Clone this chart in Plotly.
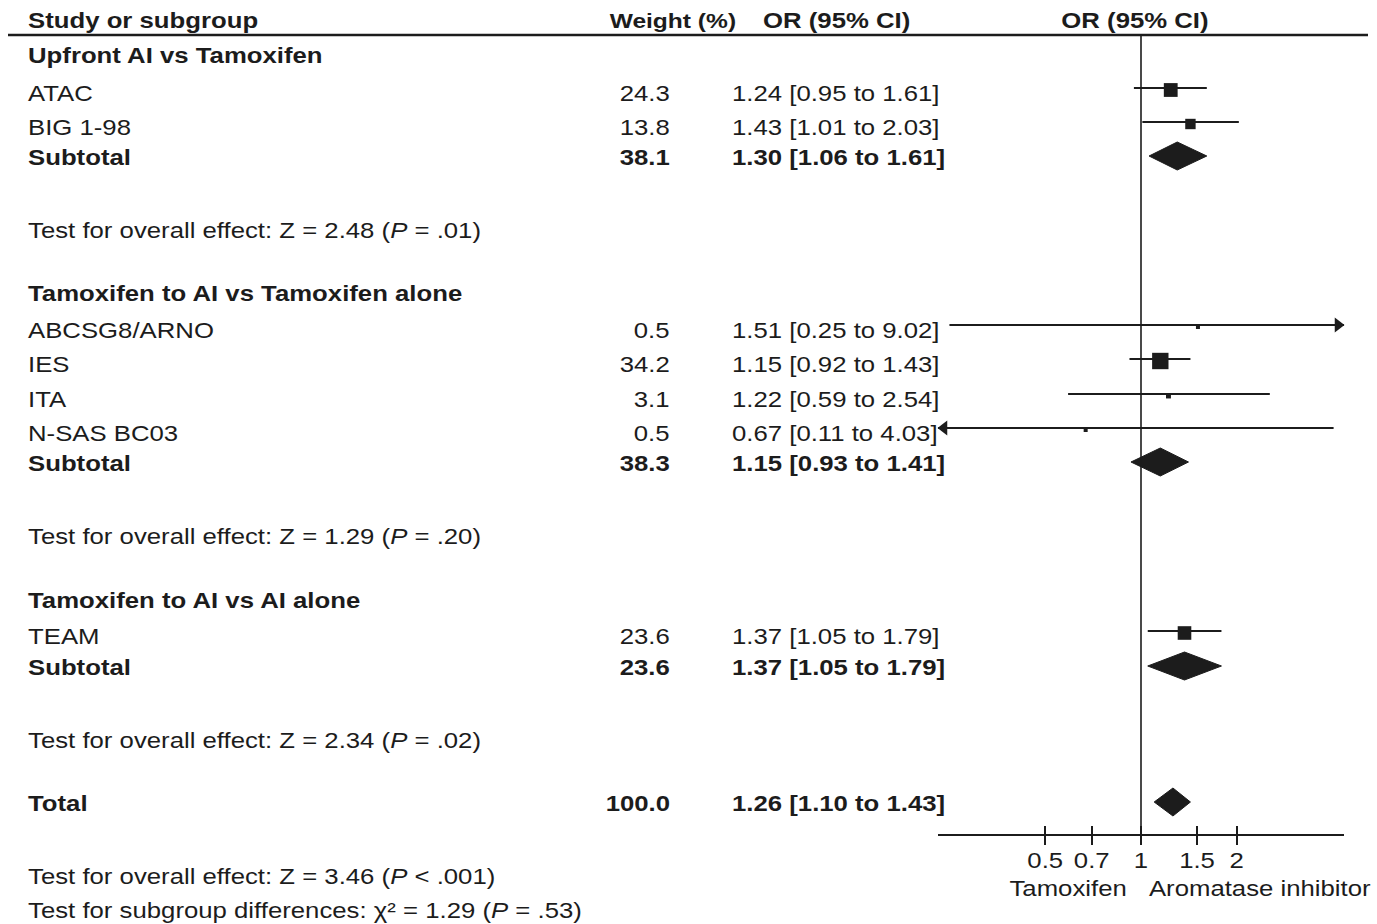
import math
import plotly.graph_objects as go

# ---- data -------------------------------------------------------------
studies = ["ATAC", "BIG 1-98", "ABCSG8/ARNO", "IES", "ITA", "N-SAS BC03", "TEAM"]
weights = [24.3, 13.8, 0.5, 34.2, 3.1, 0.5, 23.6]
or_est = [1.24, 1.43, 1.51, 1.15, 1.22, 0.67, 1.37]
ci_lo = [0.95, 1.01, 0.25, 0.92, 0.59, 0.11, 1.05]
ci_hi = [1.61, 2.03, 9.02, 1.43, 2.54, 4.03, 1.79]

groups = ["Upfront AI vs Tamoxifen", "Tamoxifen to AI vs Tamoxifen alone",
          "Tamoxifen to AI vs AI alone"]
sub_weight = [38.1, 38.3, 23.6]
sub_est = [1.30, 1.15, 1.37]
sub_lo = [1.06, 0.93, 1.05]
sub_hi = [1.61, 1.41, 1.79]
sub_z = [2.48, 1.29, 2.34]
sub_p = ["= .01", "= .20", "= .02"]

total_weight = 100.0
total_est = 1.26
total_lo = 1.10
total_hi = 1.43
total_z = 3.46
total_p = "< .001"
chi2 = 1.29
chi2_p = "= .53"

tick_vals = [0.5, 0.7, 1, 1.5, 2]
tick_text = ["0.5", "0.7", "1", "1.5", "2"]

# ---- layout positions (page pixels, y grows downwards) ---------------
W, H = 1377, 924
header_y = 20
rule_y = 35
group_head_y = [55, 293, 600]
study_y = [93, 127, 330, 364, 399, 433, 636]
subtotal_y = [157, 463, 667]
test_y = [230, 536, 740]
total_y = 803
footer_y = [876, 910]
axis_y = 835
mark_shift = -5          # CI bars sit slightly above the text centre
diamond_half = 14

col_name = 26
col_weight = 672
col_or = 730
x_dom = (938, 1344)
log_half = 0.638
x_min, x_max = 10 ** -log_half, 10 ** log_half
dec_per_px = 2 * log_half / (x_dom[1] - x_dom[0])
arrow_inset = 6

FONT = "Liberation Sans"
FS = 22
FS_WEIGHT_HEAD = 21
STRETCH = 1.17
INK = "#1c1c1c"


def px(x):
    return x / W


def fmt_ci(e, lo, hi):
    return f"{e:.2f} [{lo:.2f} to {hi:.2f}]"


fig = go.Figure()

# confidence-interval whiskers, clipped to the axis span
wx, wy = [], []
right_arrows, left_arrows = [], []
for lo, hi, y in zip(ci_lo, ci_hi, study_y):
    ym = y + mark_shift
    wx += [max(lo, x_min), min(hi, x_max), None]
    wy += [ym, ym, None]
    if hi > x_max:
        right_arrows.append(ym)
    if lo < x_min:
        left_arrows.append(ym)
fig.add_trace(go.Scatter(x=wx, y=wy, mode="lines",
                         line=dict(color=INK, width=2), hoverinfo="skip"))

if right_arrows:
    fig.add_trace(go.Scatter(
        x=[x_max * 10 ** (-arrow_inset * dec_per_px)] * len(right_arrows),
        y=right_arrows, mode="markers", cliponaxis=False,
        marker=dict(symbol="triangle-right", size=13, color=INK, opacity=1)))
if left_arrows:
    fig.add_trace(go.Scatter(
        x=[x_min * 10 ** (arrow_inset * dec_per_px)] * len(left_arrows),
        y=left_arrows, mode="markers", cliponaxis=False,
        marker=dict(symbol="triangle-left", size=13, color=INK, opacity=1)))

# study point estimates, square area proportional to weight
fig.add_trace(go.Scatter(
    x=or_est, y=[y + mark_shift + 2 for y in study_y], mode="markers",
    marker=dict(symbol="square", color=INK, opacity=1,
                size=[max(4, 2.8 * math.sqrt(w)) for w in weights],
                line=dict(width=0)),
    hoverinfo="skip"))


# pooled estimates as diamonds
def diamond(lo, est, hi, y):
    fig.add_trace(go.Scatter(
        x=[lo, est, hi, est, lo], y=[y, y - diamond_half, y, y + diamond_half, y],
        mode="lines", fill="toself", fillcolor=INK,
        line=dict(color=INK, width=1), hoverinfo="skip"))


for lo, est, hi, y in zip(sub_lo, sub_est, sub_hi, subtotal_y):
    diamond(lo, est, hi, y - 1)
diamond(total_lo, total_est, total_hi, total_y - 1)

# line of no effect
fig.add_trace(go.Scatter(x=[1, 1], y=[rule_y, axis_y], mode="lines",
                         xaxis="x2", line=dict(color=INK, width=1.6),
                         hoverinfo="skip"))

# ---- text columns ----------------------------------------------------
ann = []


def text(x, y, s, bold=False, anchor="left", size=FS):
    ann.append(dict(x=px(x), y=y, xref="paper", yref="y",
                    text=f"<b>{s}</b>" if bold else s,
                    showarrow=False, xanchor=anchor, yanchor="middle",
                    font=dict(family=FONT, size=size, color=INK)))


text(col_name, header_y, "Study or subgroup", bold=True)
text(738, header_y, "Weight (%)", bold=True, anchor="right", size=FS_WEIGHT_HEAD)
text(761, header_y, "OR (95% CI)", bold=True)
text(1135, header_y, "OR (95% CI)", bold=True, anchor="center")

for g, name in enumerate(groups):
    text(col_name, group_head_y[g], name, bold=True)
    text(col_name, subtotal_y[g], "Subtotal", bold=True)
    text(col_weight, subtotal_y[g], f"{sub_weight[g]:.1f}", bold=True,
         anchor="right")
    text(col_or, subtotal_y[g], fmt_ci(sub_est[g], sub_lo[g], sub_hi[g]),
         bold=True)
    text(col_name, test_y[g],
         f"Test for overall effect: Z = {sub_z[g]:.2f} (<i>P</i> {sub_p[g]})")

for i, s in enumerate(studies):
    text(col_name, study_y[i], s)
    text(col_weight, study_y[i], f"{weights[i]:.1f}", anchor="right")
    text(col_or, study_y[i], fmt_ci(or_est[i], ci_lo[i], ci_hi[i]))

text(col_name, total_y, "Total", bold=True)
text(col_weight, total_y, f"{total_weight:.1f}", bold=True, anchor="right")
text(col_or, total_y, fmt_ci(total_est, total_lo, total_hi), bold=True)
text(col_name, footer_y[0],
     f"Test for overall effect: Z = {total_z:.2f} (<i>P</i> {total_p})")
text(col_name, footer_y[1],
     f"Test for subgroup differences: χ² = {chi2:.2f} (<i>P</i> {chi2_p})")

text(1068, 888, "Tamoxifen", anchor="center")
text(1260, 888, "Aromatase inhibitor", anchor="center")

axis_common = dict(type="log", range=[-log_half, log_half],
                   domain=[px(x_dom[0]), px(x_dom[1])],
                   anchor="free", position=1 - axis_y / H,
                   showgrid=False, zeroline=False,
                   tickvals=tick_vals, ticktext=tick_text,
                   tickwidth=2, tickcolor=INK, ticklen=9)

fig.update_layout(
    width=W, height=H, margin=dict(l=0, r=0, t=0, b=0),
    paper_bgcolor="white", plot_bgcolor="white", showlegend=False,
    xaxis=dict(**axis_common, showline=True, linecolor=INK, linewidth=2,
               ticks="outside", ticklabelstandoff=-3,
               tickfont=dict(family=FONT, size=FS, color=INK)),
    xaxis2=dict(**axis_common, overlaying="x", matches="x", ticks="inside",
                showticklabels=False, showline=False),
    yaxis=dict(range=[H, 0], domain=[0, 1], visible=False),
    annotations=ann,
    shapes=[dict(type="line", xref="paper", yref="y", x0=px(8), x1=px(1368),
                 y0=rule_y, y1=rule_y, line=dict(color=INK, width=2.5))],
)

# widen the typeface horizontally, keeping each label's anchored edge fixed
widen_text = """
var gd = document.getElementById('{plot_id}');
var sx = %s;
function widen(t, mode) {
  var b = t.getBBox();
  var ax = mode === 'left' ? b.x : (mode === 'right' ? b.x + b.width : b.x + b.width / 2);
  var old = t.getAttribute('transform') || '';
  t.setAttribute('transform', old + ' translate(' + ax + ',0) scale(' + sx + ',1) translate(' + (-ax) + ',0)');
}
gd.querySelectorAll('g.annotation').forEach(function (g) {
  var a = gd.layout.annotations[+g.getAttribute('data-index')];
  var t = g.querySelector('text.annotation-text');
  if (a && t) widen(t, a.xanchor);
});
gd.querySelectorAll('g.xtick text').forEach(function (t) { widen(t, 'center'); });
""" % STRETCH

fig.write_html("out.html", post_script=widen_text)
